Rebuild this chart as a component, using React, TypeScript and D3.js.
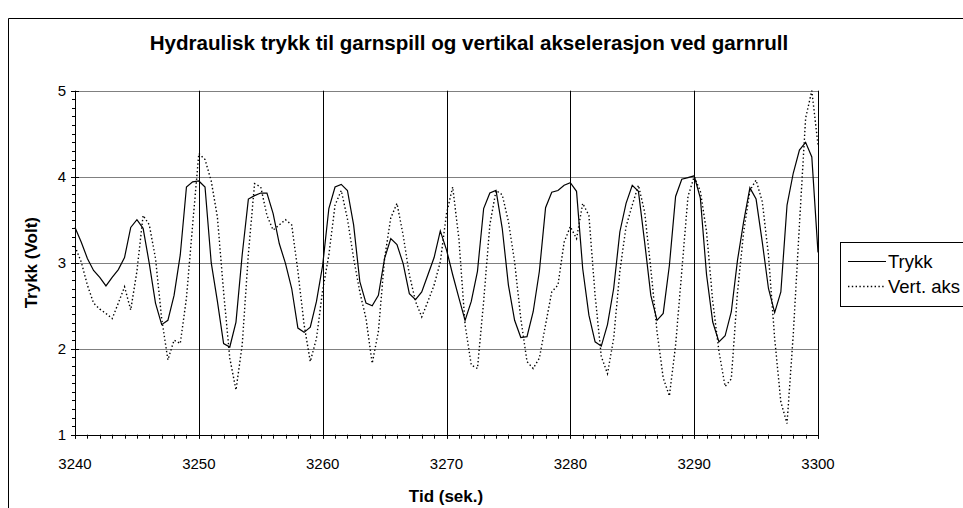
import React from "react";
import * as d3 from "d3";

const title = "Hydraulisk trykk til garnspill og vertikal akselerasjon ved garnrull";
const xTitle = "Tid (sek.)";
const yTitle = "Trykk (Volt)";
const seriesNames = ["Trykk", "Vert. aks"];
const xTicks = [3240, 3250, 3260, 3270, 3280, 3290, 3300];
const yTicks = [1, 2, 3, 4, 5];
const tStart = 3240;
const tStep = 0.5;

const trykk = [
  3.41, 3.24, 3.05, 2.91, 2.83, 2.73, 2.83, 2.92, 3.06, 3.41, 3.5, 3.4, 2.99, 2.53, 2.28, 2.33, 2.62, 3.09, 3.88, 3.94, 3.95,
  3.88, 3.0, 2.55, 2.06, 2.02, 2.31, 3.09, 3.74, 3.78, 3.81, 3.81, 3.57, 3.22, 2.99, 2.7, 2.24, 2.19, 2.25, 2.55, 2.97,
  3.63, 3.88, 3.91, 3.84, 3.44, 2.78, 2.53, 2.5, 2.62, 3.05, 3.28, 3.21, 2.99, 2.64, 2.57, 2.66, 2.86, 3.06, 3.37, 3.15,
  2.86, 2.59, 2.33, 2.55, 2.9, 3.63, 3.81, 3.84, 3.4, 2.74, 2.33, 2.13, 2.14, 2.43, 2.9, 3.64, 3.82, 3.84, 3.9, 3.93,
  3.83, 2.93, 2.39, 2.08, 2.03, 2.28, 2.7, 3.36, 3.69, 3.9, 3.83, 3.24, 2.62, 2.33, 2.41, 2.97, 3.77, 3.97, 3.99, 4.01,
  3.75, 2.86, 2.31, 2.08, 2.15, 2.43, 3.03, 3.48, 3.87, 3.74, 3.24, 2.7, 2.42, 2.66, 3.67, 4.04, 4.31, 4.4, 4.23, 3.12,
];

const vertAks = [
  3.19, 3.01, 2.74, 2.53, 2.46, 2.41, 2.35, 2.53, 2.72, 2.45, 2.9, 3.55, 3.44, 3.05, 2.35, 1.87, 2.1, 2.06, 2.59, 3.44, 4.27,
  4.2, 3.95, 3.53, 2.66, 1.89, 1.52, 2.04, 3.1, 3.92, 3.88, 3.55, 3.38, 3.44, 3.5, 3.44, 2.9, 2.28, 1.85, 2.12, 2.68,
  3.09, 3.67, 3.84, 3.51, 3.05, 2.66, 2.35, 1.83, 2.2, 3.05, 3.52, 3.69, 3.32, 2.86, 2.55, 2.37, 2.55, 2.74, 3.01, 3.57,
  3.88, 3.28, 2.28, 1.81, 1.77, 2.55, 3.44, 3.84, 3.79, 3.48, 3.01, 2.35, 1.85, 1.77, 1.89, 2.28, 2.66, 2.74, 3.24, 3.42,
  3.28, 3.69, 3.55, 2.62, 1.91, 1.71, 2.12, 2.9, 3.42, 3.67, 3.9, 3.59, 2.93, 2.2, 1.66, 1.45, 2.04, 2.9, 3.77, 4.0,
  3.83, 3.36, 2.55, 1.97, 1.56, 1.65, 2.66, 3.36, 3.84, 3.96, 3.71, 3.09, 2.12, 1.38, 1.13, 2.16, 3.44, 4.68, 5.0, 4.37,
];

const W = 963;
const H = 508;
const FONT = "'Liberation Sans', Arial, sans-serif";

export default function App() {
  const x = d3.scaleLinear().domain([3240, 3300]).range([75, 818]);
  const y = d3.scaleLinear().domain([1, 5]).range([434.7, 90.7]);
  const times = trykk.map((_, i) => tStart + i * tStep);
  const line = d3
    .line<number>()
    .x((_, i) => x(times[i]))
    .y((v) => y(v));

  const xMinor = d3.range(3240, 3301, 1);
  const yMinor = d3.range(10, 51, 1).map((v) => v / 10);
  const x0 = x(3240);
  const yb = y(1);

  return (
    <svg
      width={W}
      height={H}
      style={{ position: "absolute", left: 0, top: 0, background: "#fff" }}
      fontFamily={FONT}
    >
      <rect x={0} y={0} width={W} height={H} fill="#fff" />
      {/* chart area border (cut off at right and bottom) */}
      <path d={`M8.5,${H + 2} V18.5 H${W + 2}`} fill="none" stroke="#000" strokeWidth={1} />
      <text x={469} y={50} textAnchor="middle" fontSize={20.6} fontWeight="bold">
        {title}
      </text>

      {/* gridlines */}
      {yTicks.filter((t) => t > 1).map((t) => (
        <line key={"gy" + t} x1={x0} x2={x(3300)} y1={Math.round(y(t)) + 0.5} y2={Math.round(y(t)) + 0.5} stroke="#808080" strokeWidth={1} />
      ))}
      {xTicks.filter((t) => t > 3240).map((t) => (
        <line key={"gx" + t} x1={Math.round(x(t)) + 0.5} x2={Math.round(x(t)) + 0.5} y1={y(5)} y2={yb} stroke="#000" strokeWidth={1} />
      ))}

      {/* series */}
      <path d={line(trykk) || ""} fill="none" stroke="#000" strokeWidth={1.2} />
      <path d={line(vertAks) || ""} fill="none" stroke="#000" strokeWidth={1.4} strokeDasharray="1.4,2.4" />

      {/* axes */}
      <line x1={Math.round(x0) + 0.5} x2={Math.round(x0) + 0.5} y1={y(5)} y2={yb + 0.5} stroke="#000" />
      <line x1={x0} x2={x(3300)} y1={Math.round(yb) + 0.5} y2={Math.round(yb) + 0.5} stroke="#000" />
      {yMinor.map((v) => (
        <line key={"ym" + v} x1={x0 - 3} x2={x0} y1={Math.round(y(v)) + 0.5} y2={Math.round(y(v)) + 0.5} stroke="#000" />
      ))}
      {yTicks.map((t) => (
        <line key={"yt" + t} x1={x0 - 4} x2={x0 + 4} y1={Math.round(y(t)) + 0.5} y2={Math.round(y(t)) + 0.5} stroke="#000" />
      ))}
      {xMinor.map((t) => (
        <line key={"xm" + t} x1={Math.round(x(t)) + 0.5} x2={Math.round(x(t)) + 0.5} y1={yb} y2={yb + 4} stroke="#000" />
      ))}
      {xTicks.map((t) => (
        <line key={"xt" + t} x1={Math.round(x(t)) + 0.5} x2={Math.round(x(t)) + 0.5} y1={yb - 4} y2={yb + 4} stroke="#000" />
      ))}

      {/* tick labels */}
      {yTicks.map((t) => (
        <text key={"yl" + t} x={x0 - 9} y={y(t) + 5.5} textAnchor="end" fontSize={15}>
          {t}
        </text>
      ))}
      {xTicks.map((t) => (
        <text key={"xl" + t} x={x(t)} y={469} textAnchor="middle" fontSize={15}>
          {t}
        </text>
      ))}

      {/* axis titles */}
      <text x={446} y={502} textAnchor="middle" fontSize={17} fontWeight="bold">
        {xTitle}
      </text>
      <text transform={`translate(37,${(y(5) + yb) / 2}) rotate(-90)`} textAnchor="middle" fontSize={17} fontWeight="bold">
        {yTitle}
      </text>

      {/* legend */}
      <rect x={840.5} y={242.5} width={140} height={64} fill="#fff" stroke="#000" />
      <line x1={848} x2={886} y1={261.5} y2={261.5} stroke="#000" strokeWidth={1.2} />
      <text x={888} y={268} fontSize={18.5}>
        {seriesNames[0]}
      </text>
      <line x1={848} x2={886} y1={286.5} y2={286.5} stroke="#000" strokeWidth={1.4} strokeDasharray="1.4,2.4" />
      <text x={888} y={293} fontSize={18.5}>
        {seriesNames[1]}
      </text>
    </svg>
  );
}
